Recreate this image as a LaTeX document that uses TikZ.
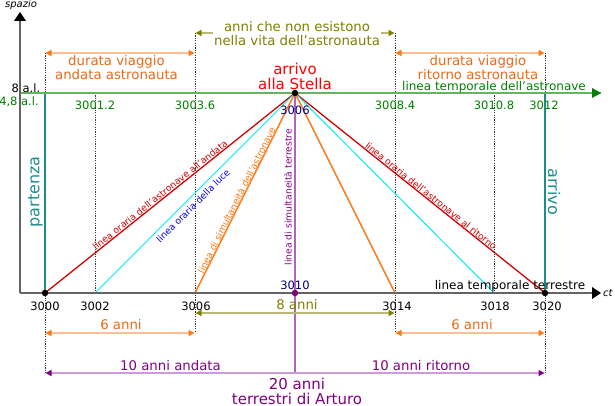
\documentclass[tikz,border=0pt]{standalone}
\usepackage{fontspec}
\setmainfont{DejaVu Sans}
\usetikzlibrary{arrows.meta}
\definecolor{cgreen}{RGB}{0,128,0}
\definecolor{cgreenl}{RGB}{100,180,100}
\definecolor{cteal}{RGB}{30,140,140}
\definecolor{corange}{RGB}{255,120,20}
\definecolor{corangetxt}{RGB}{232,105,25}
\definecolor{corangel}{RGB}{255,190,150}
\definecolor{colive}{RGB}{128,128,0}
\definecolor{colivel}{RGB}{185,185,115}
\definecolor{cpurple}{RGB}{128,0,128}
\definecolor{cpurplel}{RGB}{205,155,215}
\definecolor{cpurplem}{RGB}{175,100,190}
\definecolor{cnavy}{RGB}{0,0,128}
\definecolor{cred}{RGB}{210,0,0}
\definecolor{cgray}{RGB}{100,100,100}
\definecolor{ccyan}{RGB}{0,240,240}
\tikzset{
  dotline/.style={draw=black!80, line width=0.8pt, dash pattern=on 1.2pt off 1.2pt},
  meas/.style n args={2}{draw=#1, line width=1.6pt,
     {Triangle[length=6pt,width=6pt,color=#2]}-{Triangle[length=6pt,width=6pt,color=#2]}},
  txt/.style={inner sep=0pt, font=\fontsize{13.3}{14}\selectfont, align=center},
  big/.style={inner sep=0pt, font=\fontsize{15}{15}\selectfont, align=center},
  num/.style={inner sep=0pt, font=\fontsize{11.5}{12}\selectfont},
  small/.style={inner sep=0pt, font=\fontsize{12}{12}\selectfont},
  linelab/.style={inner sep=0pt, font=\fontsize{9.2}{9.5}\selectfont},
  dot/.style={circle, fill=#1, inner sep=0pt, minimum size=6.5pt},
}
\begin{document}
\begin{tikzpicture}[x=1pt,y=-1pt]
\useasboundingbox (0,0) rectangle (615,406);
% key coordinates
\coordinate (S) at (295,93);
\coordinate (A) at (45,293);
\coordinate (B) at (545,293);
\coordinate (L1) at (95,293);
\coordinate (L2) at (494,293);
\coordinate (O1) at (195,293);
\coordinate (O2) at (395,293);
\coordinate (T) at (295,293);
\coordinate (Ax0) at (20,293);
\coordinate (AxE) at (601,293);
\coordinate (AyE) at (20,12);
\coordinate (G0) at (20,93);
\coordinate (GE) at (601,93);
% dotted guides
\coordinate (d1a) at (45,53);  \coordinate (d1b) at (45,93);
\coordinate (d1c) at (45,373);
\coordinate (d2a) at (95,93);
\coordinate (d3a) at (195,33); \coordinate (d3b) at (195,333);
\coordinate (d4a) at (395,33); \coordinate (d4b) at (395,333);
\coordinate (d5a) at (494,93);
\coordinate (d6a) at (545,53); \coordinate (d6b) at (545,93);
\coordinate (d6c) at (545,373);
\draw[dotline] (d1a) -- (d1b);
\draw[dotline] (A) -- (d1c);
\draw[dotline] (d2a) -- (L1);
\draw[dotline] (d3a) -- (d3b);
\draw[dotline] (d4a) -- (d4b);
\draw[dotline] (d5a) -- (L2);
\draw[dotline] (d6a) -- (d6b);
\draw[dotline] (B) -- (d6c);
% teal verticals
\draw[cteal, line width=1.3pt] (d1b) -- (A);
\draw[cteal, line width=1.3pt] (d6b) -- (B);
% astronaut timeline
\draw[cgreenl, line width=1.8pt] (G0) -- (GE);
\fill[cgreen] (GE) ++(-9,-5) -- (GE) -- ++(-9,5) -- cycle;
% lines from star
\draw[cpurplem, line width=2pt] (S) -- (T) -- (295,373);
\draw[cred, line width=1.3pt] (S) -- (A);
\draw[cred, line width=1.3pt] (S) -- (B);
\draw[ccyan, line width=1pt] (S) -- (L1);
\draw[ccyan, line width=1pt] (S) -- (L2);
\draw[corange, line width=1.4pt] (S) -- (O1);
\draw[corange, line width=1.4pt] (S) -- (O2);
% axes
\draw[cgray, line width=1.8pt] (Ax0) -- (592,293);
\fill[black] (AxE) ++(-9,-6) -- (AxE) -- ++(-9,6) -- cycle;
\draw[cgray, line width=1.8pt] (Ax0) -- (20,21);
\fill[black] (AyE) ++(-6,9) -- (AyE) -- ++(6,9) -- cycle;
% dots
\node[dot=black] (dS) at (S) {};
\node[dot=black] (dA) at (A) {};
\node[dot=black] (dB) at (B) {};
\node[dot=cpurple] (dT) at (T) {};
% measuring arrows
\draw[meas={colivel}{colive}] (195.5,33) -- (394.5,33);
\draw[meas={corangel}{corange}] (45.5,53) -- (194.5,53);
\draw[meas={corangel}{corange}] (395.5,53) -- (544.5,53);
\draw[meas={colivel}{colive}] (195.5,313) -- (394.5,313);
\draw[meas={corangel}{corange}] (45.5,333) -- (194.5,333);
\draw[meas={corangel}{corange}] (395.5,333) -- (544.5,333);
\draw[meas={cpurplel}{cpurple}] (45.5,373) -- (544.5,373);
% texts top
\node[txt, colive, fill=white, inner sep=1pt] (tolive) at (297,33.5) {anni che non esistono\\nella vita dell'astronauta};
\node[txt, corangetxt] (tol) at (116.5,68) {durata viaggio\\andata astronauta};
\node[txt, corangetxt] (tor) at (478,68) {durata viaggio\\ritorno astronauta};
\node[big, red] (tarr) at (295,76.5) {arrivo\\alla Stella};
\node[small, cgreen] (tgl) at (494,87) {linea temporale dell'astronave};
\node[font=\fontsize{10}{10}\selectfont\itshape, inner sep=0pt] (tsp) at (21,5) {spazio};
\node[font=\fontsize{10}{10}\selectfont\itshape, inner sep=0pt, anchor=west] (tct) at (603,293) {ct};
\node[num] (t8al) at (26,88) {8 a.l.};
\node[num, cgreen] (t48al) at (19,101.5) {4,8 a.l.};
% green astronaut ticks
\node[num, cgreen] (g1) at (95,105) {3001.2};
\node[num, cgreen] (g2) at (195,105) {3003.6};
\node[num, cnavy] (g3) at (295,110) {3006};
\node[num, cgreen] (g4) at (395,105) {3008.4};
\node[num, cgreen] (g5) at (494,105) {3010.8};
\node[num, cgreen] (g6) at (544,105) {3012};
% rotated labels
\node[big, cteal, font=\fontsize{16}{16}\selectfont, rotate=90] (tpart) at (35.5,192) {partenza};
\node[big, cteal, font=\fontsize{16}{16}\selectfont, rotate=-90] (tarrv) at (554,192) {arrivo};
\node[linelab, cred, rotate=38.66] (lr1) at (160,195) {linea oraria dell'astronave all'andata};
\node[linelab, blue, rotate=45] (lb) at (193,206) {linea oraria della luce};
\node[linelab, corange, rotate=63.43] (lo) at (236.5,200) {linea di simultaneità dell'astronave};
\node[linelab, cpurple, rotate=90] (lp) at (288,197) {linea di simultaneità terrestre};
\node[linelab, cred, rotate=-38.66] (lr2) at (431,196) {linea oraria dell'astronave al ritorno};
% earth line labels
\node[small] (tterr) at (510,286.5) {linea temporale terrestre};
\node[num, cnavy] (t3010) at (295,285) {3010};
\node[num] (b1) at (45,306) {3000};
\node[num] (b2) at (95,306) {3002};
\node[num] (b3) at (196,306) {3006};
\node[num] (b4) at (397,306) {3014};
\node[num] (b5) at (495,306) {3018};
\node[num] (b6) at (547,306) {3020};
% bottom measures
\node[txt, colive] (t8) at (297,305) {8 anni};
\node[txt, corangetxt] (t6a) at (121,325) {6 anni};
\node[txt, corangetxt] (t6b) at (472,325) {6 anni};
\node[txt, cpurple] (t10a) at (170.5,366) {10 anni andata};
\node[txt, cpurple] (t10r) at (421,366) {10 anni ritorno};
\node[big, cpurple] (t20) at (297,391.5) {20 anni\\terrestri di Arturo};
\end{tikzpicture}
\end{document}
